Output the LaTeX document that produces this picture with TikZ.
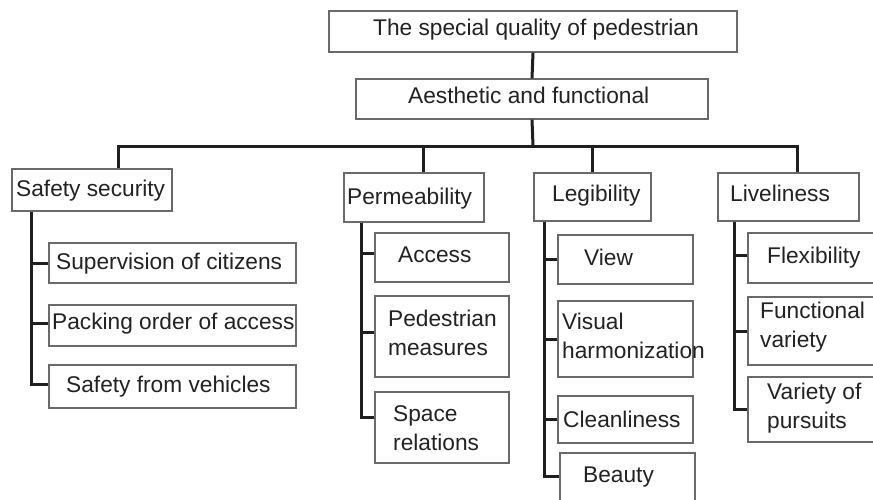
\documentclass[tikz,border=0pt]{standalone}
\usepackage{fontspec}
\setmainfont{Liberation Sans}
\usetikzlibrary{fit}
\definecolor{boxgray}{HTML}{6A6A6A}
\definecolor{textgray}{HTML}{222222}
\begin{document}
\begin{tikzpicture}[x=1pt,y=-1pt,
  box/.style={draw=boxgray, line width=1.3pt, inner sep=0pt, fill=white},
  conn/.style={draw=black!88, line width=3pt},
  lbl/.style={inner sep=0pt, anchor=base west, text=textgray,
    font=\fontsize{22.7}{28.5}\selectfont, align=left}]
\useasboundingbox (0,0) rectangle (873,499);
\clip (0,0) rectangle (873,499);

% boxes
\node[box, fit={(329,11) (737,52)}]   (top) {};
\node[box, fit={(356,79) (708,119)}]  (aes) {};
\node[box, fit={(12,169) (172,211)}]  (ss)  {};
\node[box, fit={(344,173) (484,222)}] (pm)  {};
\node[box, fit={(534,173) (651,221)}] (lg)  {};
\node[box, fit={(718,173) (859,221)}] (lv)  {};
\node[box, fit={(49,243) (296,283)}]  (sv)  {};
\node[box, fit={(49,305) (296,346)}]  (pk)  {};
\node[box, fit={(49,365) (296,408)}]  (fv)  {};
\node[box, fit={(375,233) (509,282)}] (ac)  {};
\node[box, fit={(375,296) (509,377)}] (pd)  {};
\node[box, fit={(375,392) (509,463)}] (sr)  {};
\node[box, fit={(558,235) (693,284)}] (vw)  {};
\node[box, fit={(558,301) (693,377)}] (vh)  {};
\node[box, fit={(558,396) (693,443)}] (cl)  {};
\node[box, fit={(560,453) (695,510)}] (bt)  {};
\node[box, fit={(748,233) (885,283)}] (fx)  {};
\node[box, fit={(748,297) (885,365)}] (fn)  {};
\node[box, fit={(748,377) (885,442)}] (vp)  {};

% labels (multi-line labels are placed by the baseline of their last line)
\node[lbl] (tTop) at (373,35)  {The special quality of pedestrian};
\node[lbl] (tAes) at (408,103) {Aesthetic and functional};
\node[lbl] (tSs)  at (16,196)  {Safety security};
\node[lbl] (tPm)  at (347,204) {Permeability};
\node[lbl] (tLg)  at (552,201) {Legibility};
\node[lbl] (tLv)  at (730,201) {Liveliness};
\node[lbl] (tSv)  at (56,269)  {Supervision of citizens};
\node[lbl] (tPk)  at (52,329)  {Packing order of access};
\node[lbl] (tFv)  at (66,392)  {Safety from vehicles};
\node[lbl] (tAc)  at (398,262) {Access};
\node[lbl] (tPd)  at (388,355) {Pedestrian\\measures};
\node[lbl] (tSr)  at (393,450) {Space\\relations};
\node[lbl] (tVw)  at (584,265) {View};
\node[lbl] (tVh)  at (562,358) {Visual\\harmonization};
\node[lbl] (tCl)  at (563,427) {Cleanliness};
\node[lbl] (tBt)  at (583,482) {Beauty};
\node[lbl] (tFx)  at (767,263) {Flexibility};
\node[lbl] (tFn)  at (760,347) {Functional\\variety};
\node[lbl] (tVp)  at (767,428) {Variety of\\pursuits};

% trunk and main bus
\coordinate (bus) at (533,146);
\draw[conn] (top.south) -- (aes.north);
\draw[conn] (aes.south) -- (bus);
\draw[conn] ([xshift=107pt]ss.north west) |- (bus) -| ([xshift=80pt]lv.north west);
\draw[conn] ([xshift=80pt]pm.north west) -- ([xshift=80pt]pm.north west |- bus);
\draw[conn] ([xshift=59pt]lg.north west) -- ([xshift=59pt]lg.north west |- bus);

% safety security branch
\draw[conn] ([xshift=20pt]ss.south west) |- ([yshift=2pt]fv.west);
\draw[conn] (sv.west) -- ++(-17,0);
\draw[conn] ([yshift=2pt]pk.west) -- ++(-17,0);

% permeability branch
\draw[conn] ([xshift=18pt]pm.south west) |- ([yshift=10pt]sr.west);
\draw[conn] ([yshift=4pt]ac.west) -- ++(-13,0);
\draw[conn] ([yshift=4pt]pd.west) -- ++(-13,0);

% legibility branch
\draw[conn] ([xshift=11pt]lg.south west) |- ([yshift=5pt]bt.west);
\draw[conn] (vw.west) -- ++(-13,0);
\draw[conn] (vh.west) -- ++(-13,0);
\draw[conn] (cl.west) -- ++(-13,0);

% liveliness branch
\draw[conn] ([xshift=17pt]lv.south west) |- (vp.west);
\draw[conn] ([yshift=3pt]fx.west) -- ++(-13,0);
\draw[conn] (fn.west) -- ++(-13,0);
\end{tikzpicture}
\end{document}
